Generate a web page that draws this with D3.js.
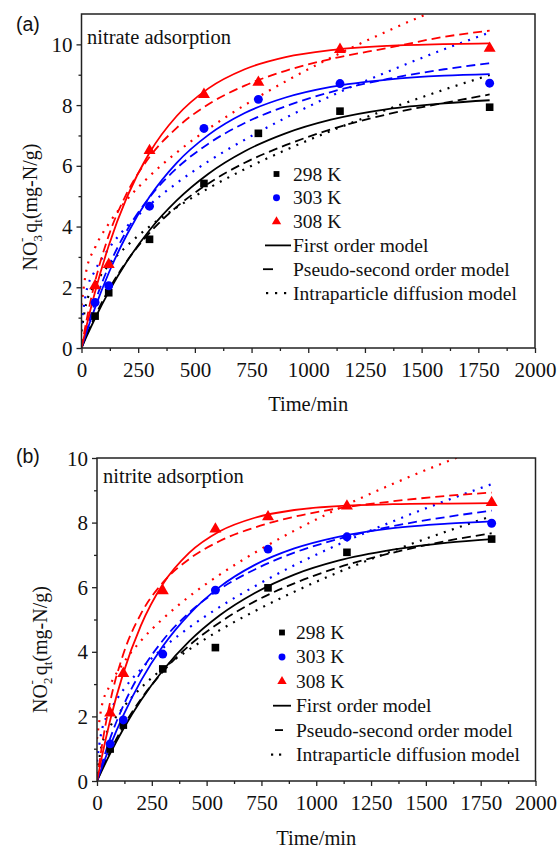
<!DOCTYPE html>
<html>
<head>
<meta charset="utf-8">
<script src="https://cdn.jsdelivr.net/npm/d3@7/dist/d3.min.js"></script>
<style>
  html, body { margin: 0; padding: 0; background: #ffffff; }
  svg { display: block; }
</style>
</head>
<body>
<div id="chart"></div>
<script>
// ---------------- DATA ----------------
const seriesLabels = ["298 K", "303 K", "308 K"];
const modelLabels = ["First order model", "Pseudo-second order model", "Intraparticle diffusion model"];
const xTicks = [0, 250, 500, 750, 1000, 1250, 1500, 1750, 2000];
const yTicksA = [0, 2, 4, 6, 8, 10];
const yTicksB = [0, 2, 4, 6, 8, 10];

// experimental time points (min)
const timeMin = [60, 120, 300, 540, 780, 1140, 1800];

// (a) nitrate adsorption, measured q_t (mg-N/g)
const nitrate298 = [1.05, 1.82, 3.58, 5.42, 7.07, 7.80, 7.93];
const nitrate303 = [1.50, 2.05, 4.67, 7.23, 8.19, 8.71, 8.72];
const nitrate308 = [2.05, 2.75, 6.50, 8.35, 8.75, 9.83, 9.87];

// (b) nitrite adsorption, measured q_t (mg-N/g)
const nitrite298 = [0.99, 1.73, 3.47, 4.13, 5.98, 7.08, 7.49];
const nitrite303 = [1.15, 1.89, 3.93, 5.91, 7.18, 7.56, 7.98];
const nitrite308 = [2.10, 3.33, 5.89, 7.80, 8.18, 8.51, 8.62];

// model curves, sampled at these times (min)
const modelTime = [0, 20, 60, 120, 200, 300, 420, 560, 720, 900, 1100, 1350, 1600, 1800];

// (a) nitrate model curves
const nitrateFirst298  = [0, 0.34, 0.98, 1.85, 2.85, 3.88, 4.86, 5.74, 6.48, 7.07, 7.52, 7.87, 8.06, 8.16];
const nitratePseudo298 = [0, 0.38, 1.05, 1.92, 2.86, 3.79, 4.65, 5.42, 6.10, 6.68, 7.20, 7.70, 8.07, 8.35];
const nitrateIntra298  = [0.55, 1.44, 2.09, 2.73, 3.36, 4.00, 4.63, 5.26, 5.89, 6.52, 7.15, 7.86, 8.51, 8.99];
const nitrateFirst303  = [0, 0.47, 1.33, 2.47, 3.73, 4.98, 6.10, 7.02, 7.74, 8.25, 8.60, 8.84, 8.97, 9.02];
const nitratePseudo303 = [0, 0.56, 1.52, 2.69, 3.87, 4.96, 5.92, 6.73, 7.41, 7.96, 8.43, 8.86, 9.18, 9.38];
const nitrateIntra303  = [0.80, 1.81, 2.55, 3.27, 4.00, 4.71, 5.43, 6.15, 6.86, 7.58, 8.30, 9.10, 9.84, 10.39];
const nitrateFirst308  = [0, 0.66, 1.85, 3.37, 4.96, 6.43, 7.64, 8.55, 9.18, 9.58, 9.81, 9.95, 10.01, 10.03];
const nitratePseudo308 = [0, 0.83, 2.19, 3.70, 5.10, 6.29, 7.25, 8.03, 8.64, 9.13, 9.52, 9.88, 10.25, 10.45];
const nitrateIntra308  = [1.40, 2.50, 3.31, 4.09, 4.88, 5.66, 6.44, 7.22, 8.00, 8.78, 9.56, 10.44, 11.24, 11.84];

// (b) nitrite model curves
const nitriteFirst298  = [0, 0.29, 0.85, 1.61, 2.49, 3.42, 4.32, 5.13, 5.82, 6.39, 6.82, 7.16, 7.38, 7.49];
const nitritePseudo298 = [0, 0.33, 0.92, 1.69, 2.53, 3.38, 4.19, 4.91, 5.56, 6.12, 6.61, 7.07, 7.44, 7.67];
const nitriteIntra298  = [0.22, 1.06, 1.68, 2.28, 2.88, 3.48, 4.07, 4.67, 5.26, 5.86, 6.46, 7.13, 7.74, 8.20];
const nitriteFirst303  = [0, 0.38, 1.09, 2.03, 3.10, 4.17, 5.16, 6.01, 6.69, 7.20, 7.56, 7.83, 7.97, 8.04];
const nitritePseudo303 = [0, 0.48, 1.32, 2.33, 3.38, 4.35, 5.21, 5.94, 6.55, 7.07, 7.49, 7.89, 8.18, 8.37];
const nitriteIntra303  = [0.60, 1.51, 2.17, 2.82, 3.46, 4.11, 4.75, 5.39, 6.03, 6.68, 7.32, 8.04, 8.70, 9.19];
const nitriteFirst308  = [0, 0.68, 1.88, 3.34, 4.81, 6.09, 7.06, 7.73, 8.15, 8.39, 8.51, 8.57, 8.59, 8.60];
const nitritePseudo308 = [0, 0.98, 2.45, 3.93, 5.17, 6.14, 6.87, 7.43, 7.85, 8.18, 8.44, 8.66, 8.83, 8.93];
const nitriteIntra308  = [1.30, 2.26, 2.97, 3.65, 4.34, 5.02, 5.71, 6.39, 7.07, 7.75, 8.43, 9.20, 9.90, 10.42];

// ---------------- STYLE ----------------
const colors = ["#000000", "#0000ff", "#ff0000"];
const markerShapes = [d3.symbolSquare, d3.symbolCircle, d3.symbolTriangle];
const serif = "'Liberation Serif','Times New Roman',serif";
const sans = "'Liberation Sans',Arial,sans-serif";

const W = 559, H = 848;
const svg = d3.select("#chart").append("svg")
  .attr("width", W).attr("height", H)
  .attr("viewBox", `0 0 ${W} ${H}`);

const panels = [
  {
    id: "a", tag: "(a)", tagX: 16, tagY: 31,
    title: "nitrate adsorption", titleX: 87, titleY: 44,
    left: 81.5, right: 535, top: 14, bottom: 348, yMax: 11, yTicks: yTicksA,
    ion: "3",
    labelX: 37, labelShift: 26,
    xTitleY: 411,
    points: [nitrate298, nitrate303, nitrate308],
    first: [nitrateFirst298, nitrateFirst303, nitrateFirst308],
    pseudo: [nitratePseudo298, nitratePseudo303, nitratePseudo308],
    intra: [nitrateIntra298, nitrateIntra303, nitrateIntra308],
    legend: { textX: 293, y0: 180.5, dy: 23.8, markX: 276.5,
              solid: [265, 291], dash: [263, 273], dots: [267, 276, 285] }
  },
  {
    id: "b", tag: "(b)", tagX: 16, tagY: 463,
    title: "nitrite adsorption", titleX: 103, titleY: 483,
    left: 97, right: 535.5, top: 458, bottom: 781, yMax: 10, yTicks: yTicksB,
    ion: "2",
    labelX: 47, labelShift: 30,
    xTitleY: 845,
    points: [nitrite298, nitrite303, nitrite308],
    first: [nitriteFirst298, nitriteFirst303, nitriteFirst308],
    pseudo: [nitritePseudo298, nitritePseudo303, nitritePseudo308],
    intra: [nitriteIntra298, nitriteIntra303, nitriteIntra308],
    legend: { textX: 296, y0: 639, dy: 24.4, markX: 282,
              solid: [273, 291], dash: [275, 283], dots: [272, 280] }
  }
];

const lineStyles = {
  first:  { dash: null,   width: 1.8, cap: "butt" },
  pseudo: { dash: "9,5",  width: 1.8, cap: "butt" },
  intra:  { dash: "2,6.5", width: 2.2, cap: "butt" }
};

panels.forEach(p => {
  const x = d3.scaleLinear().domain([0, 2000]).range([p.left, p.right]);
  const y = d3.scaleLinear().domain([0, p.yMax]).range([p.bottom, p.top]);
  const g = svg.append("g");

  // clip
  const clipId = "clip-" + p.id;
  svg.append("clipPath").attr("id", clipId).append("rect")
    .attr("x", p.left).attr("y", p.top)
    .attr("width", p.right - p.left).attr("height", p.bottom - p.top);

  // x axis major & minor
  const xMinor = d3.range(125, 2000, 250);
  const gxMinor = g.append("g").attr("transform", `translate(0,${p.bottom})`)
    .call(d3.axisBottom(x).tickValues(xMinor).tickSize(3).tickFormat(""));
  const gx = g.append("g").attr("transform", `translate(0,${p.bottom})`)
    .call(d3.axisBottom(x).tickValues(xTicks).tickSize(5).tickSizeOuter(0).tickFormat(d3.format("d")));
  [gx, gxMinor].forEach(a => { a.select(".domain").remove(); a.selectAll("line").attr("stroke", "#222").attr("stroke-width", 1.3); });
  gx.selectAll("text").attr("y", 29).attr("dy", null)
    .attr("font-family", serif).attr("font-size", 21).attr("fill", "#111");

  // y axis major & minor
  const yMinor = d3.range(1, p.yMax, 2);
  const gyMinor = g.append("g").attr("transform", `translate(${p.left},0)`)
    .call(d3.axisLeft(y).tickValues(yMinor).tickSize(3).tickFormat(""));
  const gy = g.append("g").attr("transform", `translate(${p.left},0)`)
    .call(d3.axisLeft(y).tickValues(p.yTicks).tickSize(5).tickSizeOuter(0).tickPadding(4).tickFormat(d3.format("d")));
  [gy, gyMinor].forEach(a => { a.select(".domain").remove(); a.selectAll("line").attr("stroke", "#222").attr("stroke-width", 1.3); });
  gy.selectAll("text").attr("dy", "0.34em")
    .attr("font-family", serif).attr("font-size", 21).attr("fill", "#111");

  // model curves
  const lineGen = d3.line().x((d, i) => x(modelTime[i])).y(d => y(d)).curve(d3.curveMonotoneX);
  const curves = g.append("g").attr("clip-path", `url(#${clipId})`);
  ["intra", "pseudo", "first"].forEach(kind => {
    p[kind].forEach((vals, si) => {
      const st = lineStyles[kind];
      curves.append("path")
        .attr("d", lineGen(vals))
        .attr("fill", "none")
        .attr("stroke", colors[si])
        .attr("stroke-width", st.width)
        .attr("stroke-linecap", st.cap)
        .attr("stroke-dasharray", st.dash);
    });
  });

  // data markers
  const sizes = [58, 62, 62];
  p.points.forEach((vals, si) => {
    g.append("g").selectAll("path").data(vals).join("path")
      .attr("transform", (d, i) => `translate(${x(timeMin[i])},${y(d)})`)
      .attr("d", d3.symbol().type(markerShapes[si]).size(sizes[si]))
      .attr("fill", colors[si]);
  });

  // frame
  g.append("rect")
    .attr("x", p.left).attr("y", p.top)
    .attr("width", p.right - p.left).attr("height", p.bottom - p.top)
    .attr("fill", "none").attr("stroke", "#222").attr("stroke-width", 1.5);

  // panel tag
  svg.append("text").attr("x", p.tagX).attr("y", p.tagY)
    .attr("font-family", sans).attr("font-size", 19.5).attr("fill", "#111").text(p.tag);

  // title inside
  svg.append("text").attr("x", p.titleX).attr("y", p.titleY)
    .attr("font-family", serif).attr("font-size", 20.5).attr("fill", "#111").text(p.title);

  // x title
  svg.append("text").attr("x", (p.left + p.right) / 2).attr("y", p.xTitleY)
    .attr("text-anchor", "middle")
    .attr("font-family", serif).attr("font-size", 20.5).attr("fill", "#111").text("Time/min");

  // y title
  const cy = (p.top + p.bottom) / 2 + p.labelShift;
  const yt = svg.append("text")
    .attr("transform", `translate(${p.labelX},${cy}) rotate(-90)`)
    .attr("text-anchor", "middle")
    .attr("font-family", serif).attr("font-size", 20).attr("fill", "#111");
  yt.append("tspan").text("NO");
  yt.append("tspan").attr("dy", 5).attr("font-size", 13).text(p.ion);
  yt.append("tspan").attr("dx", -7).attr("dy", -16).attr("font-size", 13).text("-");
  yt.append("tspan").attr("dy", 11).text(" q");
  yt.append("tspan").attr("dy", 5).attr("font-size", 13).text("t");
  yt.append("tspan").attr("dy", -5).text("(mg-N/g)");

  // legend
  const L = p.legend;
  const lg = svg.append("g");
  seriesLabels.forEach((lab, i) => {
    const by = L.y0 + i * L.dy;
    lg.append("path")
      .attr("transform", `translate(${L.markX},${by - 6.5})`)
      .attr("d", d3.symbol().type(markerShapes[i]).size(i === 0 ? 34 : 38))
      .attr("fill", colors[i]);
    lg.append("text").attr("x", L.textX).attr("y", by)
      .attr("font-family", serif).attr("font-size", 19.5).attr("fill", "#111").text(lab);
  });
  modelLabels.forEach((lab, j) => {
    const by = L.y0 + (j + 3) * L.dy;
    const ly = by - 6.5;
    if (j === 0) {
      lg.append("line").attr("x1", L.solid[0]).attr("x2", L.solid[1]).attr("y1", ly).attr("y2", ly)
        .attr("stroke", "#000").attr("stroke-width", 1.8);
    } else if (j === 1) {
      lg.append("line").attr("x1", L.dash[0]).attr("x2", L.dash[1]).attr("y1", ly).attr("y2", ly)
        .attr("stroke", "#000").attr("stroke-width", 1.8);
    } else {
      L.dots.forEach(dx => {
        lg.append("rect").attr("x", dx - 1).attr("y", ly - 1).attr("width", 2.2).attr("height", 2.2).attr("fill", "#000");
      });
    }
    lg.append("text").attr("x", L.textX).attr("y", by)
      .attr("font-family", serif).attr("font-size", 19.5).attr("fill", "#111").text(lab);
  });
});
</script>
</body>
</html>
